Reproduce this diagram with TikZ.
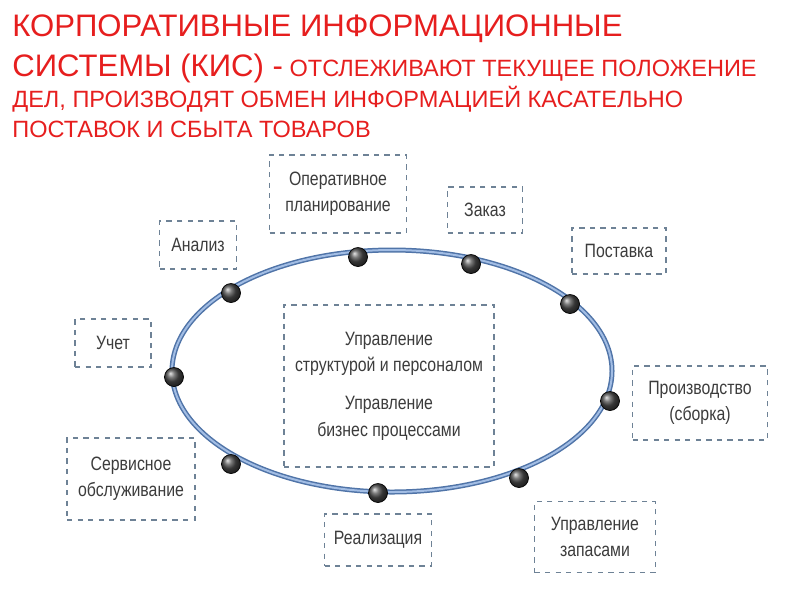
\documentclass[tikz,border=0pt]{standalone}
\usepackage{fontspec}
\setmainfont{Liberation Sans}
\newfontfamily\narrowsans[FakeStretch=0.82]{Liberation Sans}
\usetikzlibrary{positioning,shadings}
\definecolor{ttlred}{RGB}{230,30,30}
\definecolor{ringblue}{RGB}{100,145,210}
\definecolor{boxline}{RGB}{110,130,150}
\definecolor{txtgray}{RGB}{60,60,60}
\newlength\pu
\setlength\pu{0.02cm}
\tikzset{
  funcbox/.style={draw=boxline,dashed,thick,fill=white,text=txtgray,align=center,
    font=\narrowsans\fontsize{11}{15}\selectfont,inner sep=0pt},
  ttl/.style={anchor=base west,text=ttlred,inner sep=0pt},
  knot/.style={circle,minimum size=19\pu,inner sep=0pt,ball color=black!70,draw=black}
}
\begin{document}
\begin{tikzpicture}[x=0.02cm,y=-0.02cm]
  \useasboundingbox (0,0) rectangle (800,600);

  %TITLE
  \node[ttl,font=\fontsize{17.7}{20}\selectfont] (t1) at (12,36) {КОРПОРАТИВНЫЕ ИНФОРМАЦИОННЫЕ};
  \node[ttl] (t2) at (12,76) {\fontsize{17.7}{20}\selectfont СИСТЕМЫ (КИС) -\fontsize{13.4}{15}\selectfont{} ОТСЛЕЖИВАЮТ ТЕКУЩЕЕ ПОЛОЖЕНИЕ};
  \node[ttl,font=\fontsize{13.4}{15}\selectfont] (t3) at (12,107) {ДЕЛ, ПРОИЗВОДЯТ ОБМЕН ИНФОРМАЦИЕЙ КАСАТЕЛЬНО};
  \node[ttl,font=\fontsize{13.4}{15}\selectfont] (t4) at (12,137) {ПОСТАВОК И СБЫТА ТОВАРОВ};

  %RING
  \draw[ringblue!80!black,line width=5\pu] (392,371) ellipse [x radius=220,y radius=121];
  \draw[ringblue!60!white,line width=2\pu] (392,371) ellipse [x radius=220,y radius=121];

  %BOXES
  \node[funcbox,minimum width=137\pu,minimum height=78\pu] (plan) at (338,194) {Оперативное\\планирование};
  \node[funcbox,minimum width=75\pu,minimum height=46\pu] (order) at (485,210) {Заказ};
  \node[funcbox,minimum width=94\pu,minimum height=46\pu] (supply) at (619,251) {Поставка};
  \node[funcbox,minimum width=77\pu,minimum height=48\pu] (anal) at (198,245) {Анализ};
  \node[funcbox,minimum width=76\pu,minimum height=48\pu] (acct) at (113,343) {Учет};
  \node[funcbox,minimum width=135\pu,minimum height=74\pu] (prod) at (700,403) {Производство\\(сборка)};
  \node[funcbox,minimum width=128\pu,minimum height=82\pu] (serv) at (131,479) {Сервисное\\обслуживание};
  \node[funcbox,minimum width=107\pu,minimum height=52\pu] (sale) at (378,540) {Реализация};
  \node[funcbox,minimum width=121\pu,minimum height=71\pu] (stock) at (595,537) {Управление\\запасами};
  \node[funcbox,minimum width=210\pu,minimum height=162\pu] (core) at (389,386)
    {Управление\\структурой и персоналом\\[12\pu]Управление\\бизнес процессами};

  %KNOTS
  \foreach \n/\p in {k1/{231,293},k2/{358,257},k3/{471,264},k4/{570,304},k5/{610,401},
                     k6/{519,478},k7/{378,493},k8/{231,464},k9/{174,377}}
    \node[knot] (\n) at (\p) {};
\end{tikzpicture}
\end{document}
